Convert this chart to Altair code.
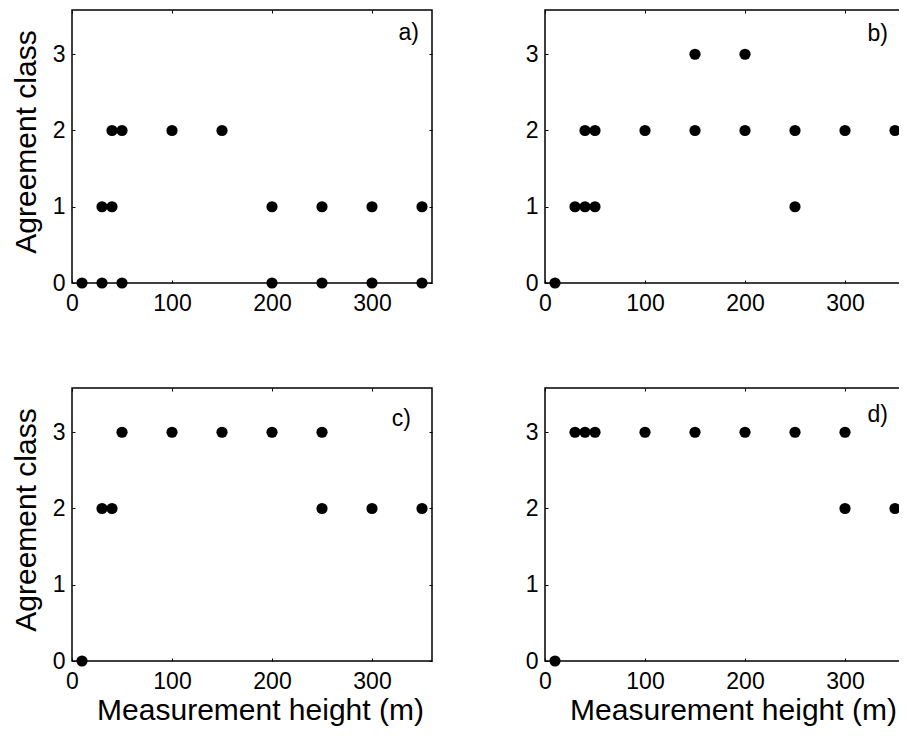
import altair as alt
import pandas as pd

a_height = [10, 30, 50, 200, 250, 300, 350, 30, 40, 200, 250, 300, 350, 40, 50, 100, 150]
a_class = [0, 0, 0, 0, 0, 0, 0, 1, 1, 1, 1, 1, 1, 2, 2, 2, 2]

b_height = [10, 30, 40, 50, 250, 40, 50, 100, 150, 200, 250, 300, 350, 150, 200]
b_class = [0, 1, 1, 1, 1, 2, 2, 2, 2, 2, 2, 2, 2, 3, 3]

c_height = [10, 30, 40, 250, 300, 350, 50, 100, 150, 200, 250]
c_class = [0, 2, 2, 2, 2, 2, 3, 3, 3, 3, 3]

d_height = [10, 300, 350, 30, 40, 50, 100, 150, 200, 250, 300]
d_class = [0, 2, 2, 3, 3, 3, 3, 3, 3, 3, 3]

x_ticks = [0, 100, 200, 300]
y_ticks = [0, 1, 2, 3]
panel_labels = ["a)", "b)", "c)", "d)"]
x_title = "Measurement height (m)"
y_title = "Agreement class"

FONT = "Liberation Sans"
W, H = 360, 273


def panel(h, c, label, show_xtitle, show_ytitle, lab_x, lab_y):
    df = pd.DataFrame({"height": h, "cls": c})
    xs = alt.Scale(domain=[0, 360], nice=False, zero=False)
    ys = alt.Scale(domain=[0, 3.58], nice=False, zero=False)
    common = dict(domain=False, grid=False, tickSize=3, offset=-3, tickColor="black",
                  tickWidth=1, labelFlush=False, labelOverlap=False)
    x_bottom = alt.Axis(orient="bottom", values=x_ticks, labelFontSize=23, labelFont=FONT,
                        labelColor="black", labelPadding=9, titleFontSize=30, titleFont=FONT,
                        titleFontWeight="normal", titleColor="black", titlePadding=2,
                        titleX=W / 2 + 8, minExtent=35, maxExtent=35, **common)
    y_left = alt.Axis(orient="left", values=y_ticks, labelFontSize=23, labelFont=FONT,
                      labelColor="black", labelPadding=7, titleFontSize=30, titleFont=FONT,
                      titleFontWeight="normal", titleColor="black", titlePadding=11,
                      titleY=H / 2 - 5, minExtent=23, maxExtent=23, **common)
    x_top = alt.Axis(orient="top", values=x_ticks, labels=False, minExtent=3, maxExtent=3,
                     **common)
    y_right = alt.Axis(orient="right", values=y_ticks, labels=False, minExtent=3,
                       maxExtent=3, **common)

    base = alt.Chart(df)
    pts = base.mark_circle(size=125, color="black", opacity=1).encode(
        x=alt.X("height:Q", scale=xs, axis=x_bottom, title=x_title if show_xtitle else None),
        y=alt.Y("cls:Q", scale=ys, axis=y_left, title=y_title if show_ytitle else None),
    )
    ghost = base.mark_circle(size=1, opacity=0).encode(
        x=alt.X("height:Q", scale=xs, axis=x_top, title=None),
        y=alt.Y("cls:Q", scale=ys, axis=y_right, title=None),
    )
    txt = alt.Chart(pd.DataFrame({"t": [label]})).mark_text(
        align="right", baseline="alphabetic", fontSize=23, font=FONT, color="black"
    ).encode(text="t:N", x=alt.value(lab_x), y=alt.value(lab_y))
    return alt.layer(pts, ghost, txt).resolve_axis(x="independent", y="independent").properties(
        width=W, height=H)


pa = panel(a_height, a_class, panel_labels[0], False, True, 347, 30)
pb = panel(b_height, b_class, panel_labels[1], False, False, 343, 31)
pc = panel(c_height, c_class, panel_labels[2], True, True, 339, 38)
pd_ = panel(d_height, d_class, panel_labels[3], True, False, 343, 34)

chart = alt.concat(pa, pb, pc, pd_, columns=2,
                   spacing=alt.RowColnumber(row=105, column=113),
                   bounds="flush").properties(
    padding={"top": 0, "left": 2, "right": -8, "bottom": 0}
).configure_view(stroke="black", strokeWidth=1.5)

chart.save("out.html", embed_options={"renderer": "svg", "actions": False})
